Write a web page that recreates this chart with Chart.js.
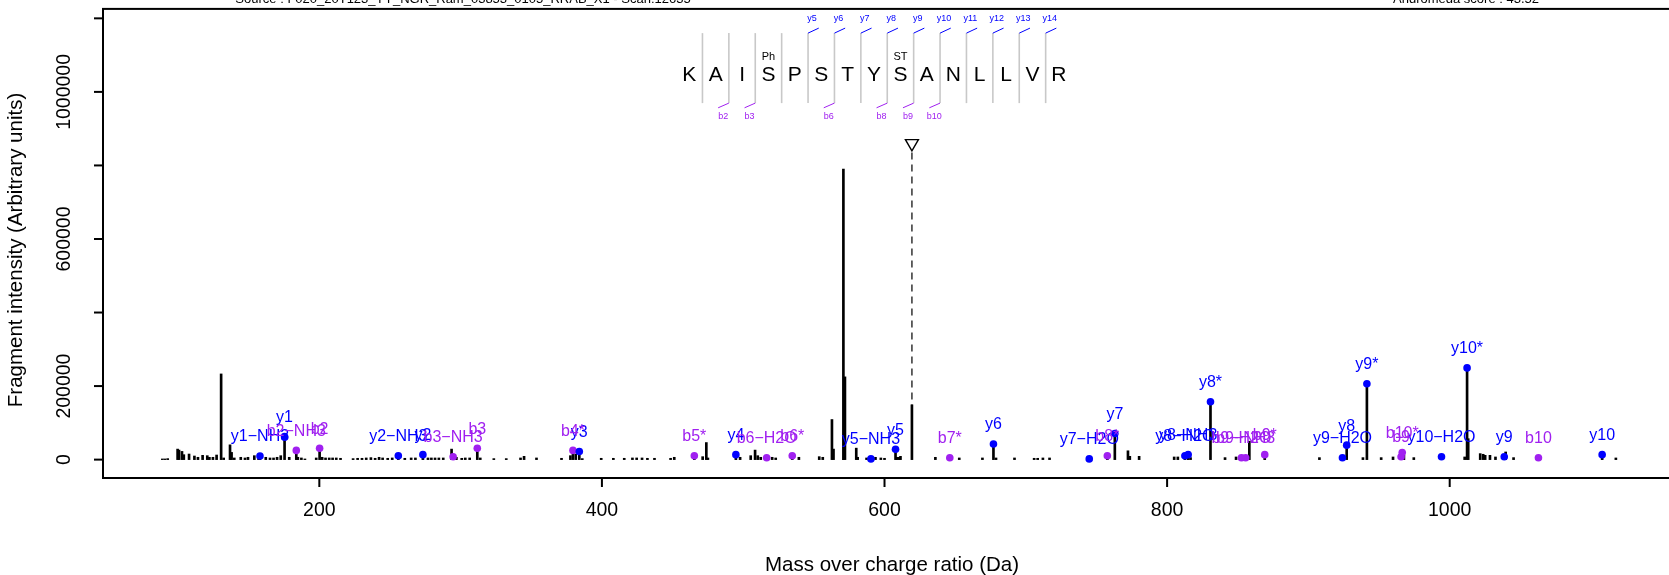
<!DOCTYPE html>
<html>
<head>
<meta charset="utf-8">
<script src="https://cdn.jsdelivr.net/npm/chart.js@4"></script>
<style>
html, body { margin: 0; padding: 0; background: #fff; overflow: hidden; }
#wrap { width: 1700px; height: 575px; }
</style>
</head>
<body>
<div id="wrap"><canvas id="spectre" width="1700" height="575"></canvas></div>
<script>
// spectre : m/z et intensité de chaque pic
const peakMz = [88.9, 90.7, 92.7, 99.7, 100.7, 102.8, 104.1, 107.8, 111.6, 114.1, 117.4, 120.7, 122.2, 124.7, 127.3,
  130.5, 132.3, 136.8, 137.9, 139.8, 144.4, 147.4, 149.5, 154.0, 157.0, 158.0, 162.1, 165.1, 167.6, 170.1, 172.7,
  175.4, 178.7, 183.7, 184.8, 187.3, 189.8, 197.8, 200.2, 202.0, 204.4, 207.0, 209.4, 212.0, 215.0, 223.9, 227.1,
  230.2, 233.2, 236.5, 239.5, 242.3, 244.8, 248.4, 251.6, 255.9, 260.5, 265.0, 268.0, 273.3, 276.9, 279.3, 281.9,
  284.6, 287.7, 293.6, 294.7, 297.0, 300.8, 303.3, 306.4, 311.8, 313.9, 323.5, 332.3, 342.4, 344.9, 353.7, 371.4,
  377.7, 379.5, 381.5, 384.0, 386.1, 399.5, 408.1, 415.8, 421.6, 424.6, 428.4, 432.2, 437.2, 448.6, 451.2, 465.4,
  471.3, 473.9, 475.0, 494.8, 497.8, 505.3, 508.4, 510.3, 512.4, 516.6, 520.5, 523.0, 534.7, 539.4, 553.8, 556.3,
  562.8, 563.9, 570.9, 572.0, 580.0, 581.0, 587.3, 590.4, 593.6, 597.4, 600.0, 607.8, 608.7, 610.3, 611.3, 619.4,
  636.0, 646.2, 652.9, 669.3, 677.1, 678.9, 692.0, 705.9, 708.4, 712.1, 716.8, 744.9, 757.7, 763.0, 772.3, 773.6,
  780.2, 805.0, 807.6, 812.6, 814.9, 816.6, 830.7, 841.0, 848.8, 852.6, 855.6, 858.2, 869.1, 907.8, 924.1, 927.1,
  938.6, 941.4, 951.5, 959.9, 965.6, 966.4, 967.6, 974.6, 994.2, 1010.6, 1012.3, 1013.1, 1021.6, 1023.7, 1025.1,
  1028.5, 1032.4, 1038.6, 1039.6, 1045.2, 1062.8, 1107.9, 1117.6];
const peakInt = [1800, 1800, 2700, 28600, 25900, 22300, 13400, 15200, 9800, 6300, 11600, 10700, 6300, 6300, 12500,
  233000, 4500, 40200, 19600, 4500, 6300, 4500, 6300, 10700, 4500, 10000, 6300, 4500, 4500, 6300, 10700,
  62400, 6300, 25000, 6300, 4500, 1800, 4500, 30800, 6300, 4500, 4500, 4500, 4500, 3600, 2700, 3600,
  3600, 4500, 5400, 3600, 6300, 4500, 3600, 4500, 10600, 3600, 4500, 4500, 13500, 4500, 4500, 4500,
  4500, 4500, 28600, 7800, 6300, 3600, 4500, 4500, 30800, 4500, 2700, 2700, 4500, 8900, 4500, 3600,
  10700, 25000, 15200, 22000, 2700, 3600, 3600, 3600, 4500, 4500, 4500, 3600, 3600, 3600, 6300, 10600,
  8000, 46400, 4500, 13500, 6300, 10700, 25900, 10700, 6300, 5000, 6300, 4500, 10600, 6300, 8000, 6300,
  109000, 28600, 790000, 225000, 31200, 6300, 4500, 2000, 6300, 4500, 3600, 28000, 6300, 6300, 8900, 149000,
  6300, 5000, 4500, 4500, 42300, 4500, 4500, 3600, 3600, 4500, 4500, 2000, 10600, 71000, 24000, 9000,
  9000, 7200, 7200, 10600, 13500, 5400, 157400, 5400, 7200, 5000, 5000, 50000, 13500, 5400, 5000, 39400,
  5400, 206300, 5400, 7200, 7800, 19300, 11700, 5400, 7800, 7200, 249400, 56900, 16300, 14500, 11700,
  11700, 7200, 7800, 20800, 5400, 5000, 13500, 4500];

// ions y annotés (bleu)
const yIonLabels = ['y1−NH3', 'y1', 'y2−NH3', 'y2', 'y3', 'y4', 'y5−NH3', 'y5', 'y6', 'y7−H2O', 'y7', 'y8−H2O',
  'y8−NH3', 'y8*', 'y9−H2O', 'y8', 'y9*', 'y10−H2O', 'y10*', 'y9', 'y10'];
const yIonMz = [158.0, 175.4, 255.9, 273.3, 384.0, 494.8, 590.4, 607.8, 677.1, 744.9, 763.0, 812.6,
  814.9, 830.7, 924.1, 927.1, 941.4, 994.2, 1012.3, 1038.6, 1107.9];
const yIonInt = [10000, 62400, 10600, 13500, 22000, 13500, 2000, 28000, 42300, 2000, 71000, 10600,
  13500, 157400, 5000, 39400, 206300, 7800, 249400, 7800, 13500];

// ions b annotés (violet)
const bIonLabels = ['b2−NH3', 'b2', 'b3−NH3', 'b3', 'b4*', 'b5*', 'b6−H2O', 'b6*', 'b7*', 'b8*', 'b9−H2O',
  'b9−NH3', 'b9*', 'b9', 'b10*', 'b10'];
const bIonMz = [183.7, 200.2, 294.7, 311.8, 379.5, 465.4, 516.6, 534.7, 646.2, 757.7, 852.6,
  855.6, 869.1, 965.6, 966.4, 1062.8];
const bIonInt = [25000, 30800, 7800, 30800, 25000, 10600, 5000, 10600, 5000, 10600, 5000,
  5000, 13500, 7800, 19300, 5000];

// précurseur
const precMz = 619.4;
const precMarkInt = 860000;

// séquence du peptide
const seqResidues = ['K', 'A', 'I', 'S', 'P', 'S', 'T', 'Y', 'S', 'A', 'N', 'L', 'L', 'V', 'R'];
const seqModPos = [3, 8];
const seqModLabels = ['Ph', 'ST'];
const seqYCuts = [5, 6, 7, 8, 9, 10, 11, 12, 13, 14];
const seqYLabels = ['y5', 'y6', 'y7', 'y8', 'y9', 'y10', 'y11', 'y12', 'y13', 'y14'];
const seqBCuts = [2, 3, 6, 8, 9, 10];
const seqBLabels = ['b2', 'b3', 'b6', 'b8', 'b9', 'b10'];
const seqCenterMz = 592.6;
const seqLetterInt = 1047000;

// axes
const xTickValues = [200, 400, 600, 800, 1000];
const yTickValues = [0, 200000, 400000, 600000, 800000, 1000000, 1200000];
const yTickLabels = ['0', '200000', '', '600000', '', '1000000', ''];

const titleLeft = 'Source : F020_20T123_YY_NGR_Ram_03853_0105_RRAB_X1 - Scan:12635';
const titleRight = 'Andromeda score : 43.52';

const BLUE = '#0000ff';
const PURPLE = '#a020f0';
const FONT = '"Liberation Sans", Arial, Helvetica, sans-serif';

const decor = {
    id: 'decor',
    afterDatasetsDraw(chart) {
        const ctx = chart.ctx;
        const xs = chart.scales.x;
        const ys = chart.scales.y;
        const a = chart.chartArea;
        ctx.save();

        // étiquettes des ions
        ctx.font = '16px ' + FONT;
        ctx.textAlign = 'center';
        ctx.textBaseline = 'middle';
        ctx.fillStyle = BLUE;
        yIonLabels.forEach((lab, i) => {
            ctx.fillText(lab, xs.getPixelForValue(yIonMz[i]), ys.getPixelForValue(yIonInt[i]) - 19);
        });
        ctx.fillStyle = PURPLE;
        bIonLabels.forEach((lab, i) => {
            ctx.fillText(lab, xs.getPixelForValue(bIonMz[i]), ys.getPixelForValue(bIonInt[i]) - 19);
        });

        // séquence
        const step = 26.4;
        const n = seqResidues.length;
        const cx = xs.getPixelForValue(seqCenterMz);
        const cy = ys.getPixelForValue(seqLetterInt);
        const x0 = cx - step * (n - 1) / 2;
        const top = cy - 41.5, bot = cy + 28.5;
        ctx.strokeStyle = '#c8c8c8';
        ctx.lineWidth = 1.6;
        for (let i = 1; i < n; i++) {
            const sx = x0 + step * (i - 0.5);
            ctx.beginPath(); ctx.moveTo(sx, top); ctx.lineTo(sx, bot); ctx.stroke();
        }
        ctx.fillStyle = '#000';
        ctx.font = '21px ' + FONT;
        seqResidues.forEach((r, j) => ctx.fillText(r, x0 + step * j, cy + 1));
        ctx.font = '11px ' + FONT;
        seqModPos.forEach((p, k) => ctx.fillText(seqModLabels[k], x0 + step * p, cy - 17.5));

        ctx.lineWidth = 1;
        ctx.font = '9px ' + FONT;
        ctx.strokeStyle = BLUE; ctx.fillStyle = BLUE;
        seqYCuts.forEach((c, k) => {
            const sx = x0 + step * (c - 0.5);
            ctx.beginPath(); ctx.moveTo(sx, top); ctx.lineTo(sx + 10.7, top - 5); ctx.stroke();
            ctx.fillText(seqYLabels[k], sx + 4, top - 14.3);
        });
        ctx.strokeStyle = PURPLE; ctx.fillStyle = PURPLE;
        seqBCuts.forEach((c, k) => {
            const sx = x0 + step * (c - 0.5);
            ctx.beginPath(); ctx.moveTo(sx, bot); ctx.lineTo(sx - 10.7, bot + 4.7); ctx.stroke();
            ctx.fillText(seqBLabels[k], sx - 5.7, bot + 13.5);
        });

        // cadre et axes
        ctx.strokeStyle = '#000';
        ctx.fillStyle = '#000';
        ctx.lineWidth = 2;
        ctx.strokeRect(a.left, a.top, a.right - a.left, a.bottom - a.top);

        ctx.font = '19.5px ' + FONT;
        yTickValues.forEach((v, i) => {
            const py = ys.getPixelForValue(v);
            ctx.beginPath(); ctx.moveTo(a.left - 9, py); ctx.lineTo(a.left, py); ctx.stroke();
            if (yTickLabels[i]) {
                ctx.save();
                ctx.translate(a.left - 38, py);
                ctx.rotate(-Math.PI / 2);
                ctx.fillText(yTickLabels[i], 0, 0);
                ctx.restore();
            }
        });
        xTickValues.forEach(v => {
            const px = xs.getPixelForValue(v);
            ctx.beginPath(); ctx.moveTo(px, a.bottom); ctx.lineTo(px, a.bottom + 9); ctx.stroke();
            ctx.fillText(String(v), px, a.bottom + 33);
        });

        // titres
        ctx.font = '20.5px ' + FONT;
        ctx.fillText('Mass over charge ratio (Da)', (a.left + a.right) / 2, 565);
        ctx.save();
        ctx.translate(16, 250);
        ctx.rotate(-Math.PI / 2);
        ctx.fillText('Fragment intensity (Arbitrary units)', 0, 0);
        ctx.restore();

        ctx.font = '13px ' + FONT;
        ctx.textBaseline = 'alphabetic';
        ctx.fillText(titleLeft, 463, 3);
        ctx.fillText(titleRight, 1466, 3);

        ctx.restore();
    }
};

const datas = {
    datasets: [
        {
            type: 'scatter',
            data: [{x: precMz, y: precMarkInt}],
            pointStyle: 'triangle',
            rotation: 180,
            pointRadius: 7.5,
            backgroundColor: '#fff',
            borderColor: '#000',
            borderWidth: 1.4,
            order: 0
        },
        {
            type: 'scatter',
            data: yIonMz.map((m, i) => ({x: m, y: yIonInt[i]})),
            pointRadius: 3.8,
            backgroundColor: BLUE,
            borderWidth: 0,
            order: 1
        },
        {
            type: 'scatter',
            data: bIonMz.map((m, i) => ({x: m, y: bIonInt[i]})),
            pointRadius: 3.8,
            backgroundColor: PURPLE,
            borderWidth: 0,
            order: 2
        },
        {
            type: 'bar',
            data: peakMz.map((m, i) => ({x: m, y: peakInt[i]})),
            backgroundColor: '#000',
            barThickness: 2,
            order: 3
        },
        {
            type: 'line',
            data: [{x: precMz, y: 0}, {x: precMz, y: precMarkInt}],
            borderColor: '#333',
            borderWidth: 1.5,
            borderDash: [7, 5],
            pointRadius: 0,
            order: 4
        }
    ]
};

const config = {
    type: 'bar',
    data: datas,
    options: {
        responsive: false,
        animation: false,
        devicePixelRatio: 1,
        layout: { padding: { left: 103, right: 19, top: 6, bottom: 97 } },
        plugins: { legend: { display: false }, tooltip: { enabled: false } },
        scales: {
            x: { type: 'linear', min: 46.9, max: 1163.7, offset: false, display: false },
            y: { type: 'linear', min: -50000, max: 1225700, display: false }
        }
    },
    plugins: [decor]
};

const myChart = new Chart(document.getElementById('spectre'), config);
</script>
</body>
</html>
